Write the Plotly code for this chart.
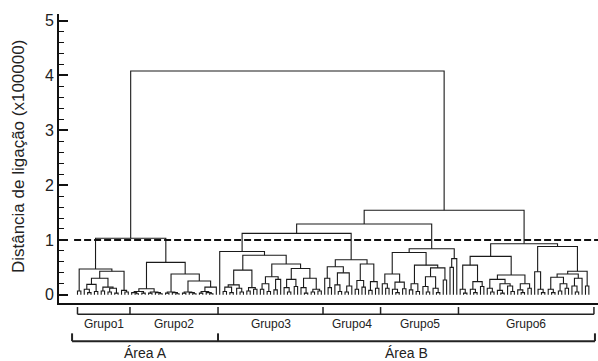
import plotly.graph_objects as go

# ---- data (linkage distances, x100000) ----
# upper merges
h_root = 4.08
h_area_a = 1.03
h_area_b = 1.54
h_g345 = 1.29
h_g34 = 1.12
cut_height = 1.0

# each subtree: [merge height, left, right]; 0 = single sample (leaf)
grupo1 = [0.47,
          [0.07, 0, 0],
          [0.43,
           [0.30,
            [0.19, [0.10, 0, [0.04, 0, 0]], [0.06, 0, 0]],
            [0.14, [0.07, 0, 0], [0.12, [0.05, 0, 0], [0.03, 0, 0]]]],
           [0.08, 0, [0.05, 0, 0]]]]

grupo2 = [0.59,
          [0.11, [0.06, [0.04, 0, [0.02, 0, 0]], [0.03, 0, 0]],
                 [0.05, [0.03, 0, 0], [0.04, 0, [0.02, 0, 0]]]],
          [0.38,
           [0.05, [0.03, 0, 0], [0.04, 0, [0.02, 0, 0]]],
           [0.25,
            [0.05, [0.03, 0, 0], [0.04, 0, [0.02, 0, 0]]],
            [0.14, [0.06, [0.03, 0, 0], [0.04, 0, [0.02, 0, 0]]], 0]]]]

grupo3 = [0.79, 0,
          [0.72,
           [0.45,
            [0.18, [0.14, [0.06, 0, 0], [0.04, 0, 0]], [0.12, 0, [0.05, 0, 0]]],
            [0.13, [0.07, 0, 0], [0.10, 0, 0]]],
           [0.56,
            [0.33, [0.20, [0.10, 0, 0], [0.06, 0, 0]], [0.28, [0.09, 0, 0], 0]],
            [0.48,
             [0.28, [0.13, 0, [0.05, 0, 0]], [0.15, 0, 0]],
             [0.30, [0.13, 0, [0.03, 0, 0]], [0.10, [0.05, 0, 0], [0.07, 0, 0]]]]]]]

grupo4 = [0.64,
          [0.51, [0.30, 0, [0.13, 0, 0]],
                 [0.40, [0.18, 0, [0.06, 0, 0]], [0.16, [0.05, 0, 0], 0]]],
          [0.56, [0.26, [0.10, 0, 0], [0.14, 0, 0]],
                 [0.24, [0.08, 0, 0], [0.12, 0, 0]]]]

grupo5 = [0.84,
          [0.77,
           [0.38, [0.20, 0, [0.12, 0, 0]],
                  [0.23, [0.10, 0, [0.04, 0, 0]], [0.11, 0, 0]]],
           [0.54,
            [0.20, [0.09, 0, 0], [0.06, 0, 0]],
            [0.49, [0.33, [0.15, 0, [0.05, 0, 0]], [0.12, 0, [0.04, 0, 0]]],
                   [0.27, 0, 0]]]],
          [0.66, [0.50, 0, 0], 0]]

grupo6 = [0.93,
          [0.70,
           [0.54, [0.10, 0, [0.03, 0, 0]],
                  [0.24, [0.10, 0, [0.04, 0, 0]], [0.15, 0, 0]]],
           [0.36,
            [0.28, [0.12, 0, [0.05, 0, 0]],
                   [0.20, [0.08, 0, [0.03, 0, 0]], [0.16, 0, [0.06, 0, 0]]]],
            [0.20, [0.09, 0, [0.04, 0, 0]], [0.12, 0, 0]]]],
          [0.88,
           [0.42, 0, [0.10, 0, [0.04, 0, 0]]],
           [0.43,
            [0.38, [0.32, [0.10, 0, [0.04, 0, 0]], [0.20, [0.07, 0, 0], [0.12, 0, 0]]],
                   [0.30, [0.16, 0, [0.05, 0, 0]], 0]],
            [0.16, 0, 0]]]]

groups = [grupo1, grupo2, grupo3, grupo4, grupo5, grupo6]
group_labels = ["Grupo1", "Grupo2", "Grupo3", "Grupo4", "Grupo5", "Grupo6"]
area_labels = ["Área A", "Área B"]
area_group_counts = [2, 4]
y_ticks = [0, 1, 2, 3, 4, 5]
y_title = "Distância de ligação (x100000)"

tree = [h_root,
        [h_area_a, grupo1, grupo2],
        [h_area_b, [h_g345, [h_g34, grupo3, grupo4], grupo5], grupo6]]

# ---- dendrogram layout ----
xs, ys = [], []
counter = [0]


def walk(node):
    if not isinstance(node, list):
        x = counter[0]
        counter[0] += 1
        return x, 0.0
    h, a, b = node
    xa, ha = walk(a)
    xb, hb = walk(b)
    xs.extend([xa, xa, xb, xb, None])
    ys.extend([ha, h, h, hb, None])
    return (xa + xb) / 2.0, h


def count_leaves(node):
    if not isinstance(node, list):
        return 1
    return count_leaves(node[1]) + count_leaves(node[2])


walk(tree)
n_leaves = counter[0]

edges = [-0.5]
for g in groups:
    edges.append(edges[-1] + count_leaves(g))
edges[0] = 0.0
edges[-1] += 1.0

fig = go.Figure()
fig.add_trace(go.Scatter(x=xs, y=ys, mode="lines",
                         line=dict(color="#1a1a1a", width=1.1),
                         hoverinfo="skip", showlegend=False))

x_range = [-5.46, 153.7]
fig.add_shape(type="line", xref="x", yref="y", x0=-1.0, x1=x_range[1],
              y0=cut_height, y1=cut_height,
              line=dict(color="#111", width=2, dash="7px,3px"))

# group brackets
gy_top, gy_bot = -0.014, -0.039
fig.add_shape(type="line", xref="x", yref="paper", x0=edges[0], x1=edges[-1],
              y0=gy_bot, y1=gy_bot, line=dict(color="#222", width=1.5))
for e in edges:
    fig.add_shape(type="line", xref="x", yref="paper", x0=e, x1=e,
                  y0=gy_top, y1=gy_bot, line=dict(color="#222", width=1.5))
for i, lab in enumerate(group_labels):
    fig.add_annotation(x=(edges[i] + edges[i + 1]) / 2, y=-0.072, xref="x",
                       yref="paper", text=lab, showarrow=False,
                       font=dict(size=12, color="#222"), yanchor="middle")

# area brackets
a_edges = [edges[0] - 1.6, edges[area_group_counts[0]], edges[-1] + 0.3]
ay_top, ay_bot = -0.105, -0.132
fig.add_shape(type="line", xref="x", yref="paper", x0=a_edges[0], x1=a_edges[-1],
              y0=ay_bot, y1=ay_bot, line=dict(color="#222", width=2))
for e in a_edges:
    fig.add_shape(type="line", xref="x", yref="paper", x0=e, x1=e,
                  y0=ay_top, y1=ay_bot, line=dict(color="#222", width=2))
for i, lab in enumerate(area_labels):
    fig.add_annotation(x=(a_edges[i] + a_edges[i + 1]) / 2, y=-0.172, xref="x",
                       yref="paper", text=lab, showarrow=False,
                       font=dict(size=14, color="#222"), yanchor="middle")

fig.add_annotation(x=-0.076, y=0.505, xref="paper", yref="paper", text=y_title,
                   textangle=-90, showarrow=False,
                   font=dict(size=17, color="#222"), xanchor="center", yanchor="middle")

fig.update_layout(
    width=598, height=361,
    margin=dict(l=59, r=0, t=14, b=58),
    paper_bgcolor="white", plot_bgcolor="white",
    font=dict(family="Liberation Sans, Arial, sans-serif", color="#222"),
    showlegend=False,
    xaxis=dict(range=x_range, showline=True, linecolor="#111", linewidth=1.6,
               showticklabels=False, ticks="", showgrid=False, zeroline=False,
               fixedrange=True),
    yaxis=dict(range=[-0.15, 5.12], showline=True, linecolor="#111", linewidth=1.6,
               tickvals=y_ticks, ticks="inside", ticklen=9, tickwidth=1.5,
               tickcolor="#111", tickfont=dict(size=16, color="#222"),
               minor=dict(ticks="inside", ticklen=5, tickwidth=1.2, dtick=0.2,
                          tick0=0, tickcolor="#111", showgrid=False),
               showgrid=False, zeroline=False, fixedrange=True),
)

fig.write_html("out.html", config={"displayModeBar": False},
               post_script="document.body.style.margin='0';document.body.style.overflow='hidden';")
